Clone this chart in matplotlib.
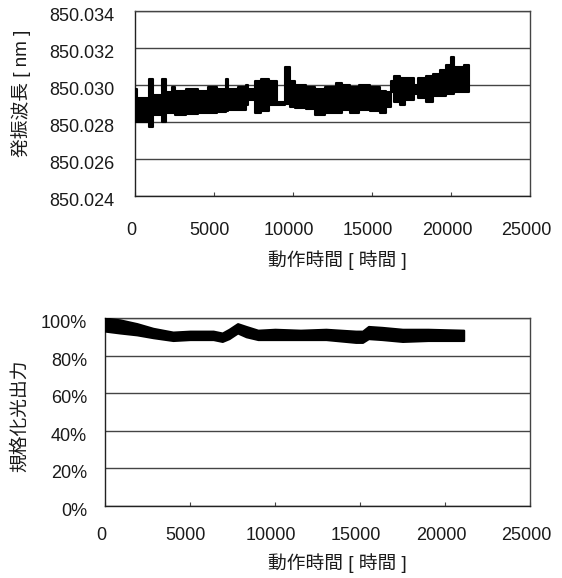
"""
Laser aging test: oscillation wavelength and normalized optical output
vs. operating time. Saves out.png
"""

import matplotlib
matplotlib.use("Agg")
import matplotlib.pyplot as plt
import matplotlib.transforms as mtransforms
from matplotlib.ticker import FuncFormatter

plt.rcParams["font.family"] = ["Liberation Sans", "Noto Sans CJK JP", "DejaVu Sans"]

TEXT_COLOR = "#1a1a1a"
LINE_COLOR = "#444444"

# ── Wavelength band: block start times (h), upper / lower edge (nm) ──────────
wl_start = [0, 130, 900, 1150, 1700, 1970, 2350, 2540, 3200, 4000, 4600, 5200,
            5750, 5900, 6500, 7000, 7170, 7600, 7950, 8060, 8500, 9000, 9500,
            9830, 10150, 10800, 11400, 12000, 12700, 13100, 13600, 14200,
            14900, 15500, 15900, 16200, 16400, 16800, 17100, 17650, 17900,
            18400, 18850, 19300, 19670, 20000, 20180, 20800]
wl_hi = [850.0298, 850.0293, 850.0303, 850.02945, 850.0303, 850.0296, 850.0299,
         850.0297, 850.0298, 850.0297, 850.0299, 850.0298, 850.0303, 850.0298,
         850.0299, 850.0300, 850.0298, 850.0302, 850.0303, 850.0303, 850.0302,
         850.0291, 850.0310, 850.0302, 850.0300, 850.0299, 850.0298, 850.0299,
         850.0301, 850.0300, 850.0299, 850.0300, 850.0299, 850.0297, 850.0296,
         850.0302, 850.0305, 850.0304, 850.0304, 850.0300, 850.0304, 850.0305,
         850.0306, 850.0308, 850.0311, 850.0315, 850.0310, 850.0311]
wl_lo = [850.0280, 850.0280, 850.02775, 850.02838, 850.0280, 850.0285,
         850.0285, 850.0284, 850.02845, 850.0285, 850.0285, 850.02855,
         850.0286, 850.02865, 850.02865, 850.0289, 850.0292, 850.0285,
         850.0293, 850.0286, 850.0289, 850.0289, 850.0290, 850.0288,
         850.02875, 850.0287, 850.0284, 850.0285, 850.0285, 850.02865,
         850.0285, 850.02865, 850.0286, 850.0285, 850.0288, 850.0296,
         850.0291, 850.0289, 850.0292, 850.0295, 850.0293, 850.0291,
         850.0294, 850.0294, 850.0295, 850.0295, 850.0296, 850.0296]
WL_END = 21130

# ── Normalized optical output band (%) ───────────────────────────────────────
po_time = [0, 880, 1880, 2830, 4000, 5000, 6370, 6900, 7300, 7800, 8300, 9000,
           10000, 11500, 13000, 14750, 15150, 15500, 16300, 17500, 19000, 21100]
po_hi = [100, 99, 97, 94.5, 92.5, 93, 93, 92, 94, 97, 95.5, 93.5,
         94, 93.5, 94, 93, 93, 95.5, 95, 94, 94, 93.5]
po_lo = [93, 92, 91, 89.5, 88, 88.5, 88.5, 87.5, 89, 92, 90, 88.5,
         88.5, 88.5, 88.5, 87, 87, 89, 88.5, 87.5, 88, 88]

x_ticks = [0, 5000, 10000, 15000, 20000, 25000]
wl_ticks = [850.024, 850.026, 850.028, 850.030, 850.032, 850.034]
po_ticks = [0, 20, 40, 60, 80, 100]

X_LABEL = "動作時間 [ 時間 ]"
WL_LABEL = "発振波長 [ nm ]"
PO_LABEL = "規格化光出力"


def style_axes(ax, fig, xpad, ypad):
    ax.set_xlim(0, 25000)
    ax.set_xticks(x_ticks)
    ax.grid(True, axis="y", color=LINE_COLOR, linewidth=1.0)
    ax.set_axisbelow(True)
    for sp in ax.spines.values():
        sp.set_color(LINE_COLOR)
        sp.set_linewidth(1.0)
    ax.spines["left"].set_color("#222222")
    ax.spines["bottom"].set_color("#222222")
    ax.tick_params(axis="x", direction="in", length=3, width=0.8,
                   color=LINE_COLOR, labelsize=13, labelcolor=TEXT_COLOR, pad=xpad)
    ax.tick_params(axis="y", length=0, labelsize=13, labelcolor=TEXT_COLOR, pad=ypad)
    # tick labels in the original sit a little left / low of their ticks
    dx = mtransforms.ScaledTranslation(-0.04, 0, fig.dpi_scale_trans)
    for lab in ax.get_xticklabels():
        lab.set_transform(lab.get_transform() + dx)
    dy = mtransforms.ScaledTranslation(0, -0.035, fig.dpi_scale_trans)
    for lab in ax.get_yticklabels():
        lab.set_transform(lab.get_transform() + dy)


def main():
    fig = plt.figure(figsize=(5.62, 5.78), dpi=100)
    ax_wl = fig.add_axes([0.2402, 0.6609, 0.7028, 0.3200])
    ax_po = fig.add_axes([0.1868, 0.1246, 0.7562, 0.3253])

    # wavelength: blocky band, each block holds until the next start time
    t = wl_start + [WL_END]
    ax_wl.fill_between(t, wl_lo + [wl_lo[-1]], wl_hi + [wl_hi[-1]], step="post",
                       color="black", linewidth=1.5, edgecolor="black", zorder=3)
    ax_wl.set_ylim(850.024, 850.034)
    ax_wl.set_yticks(wl_ticks)
    ax_wl.yaxis.set_major_formatter(FuncFormatter(lambda v, p: f"{v:.3f}"))
    style_axes(ax_wl, fig, xpad=19, ypad=15)
    ax_wl.set_xlabel(X_LABEL, fontsize=13.5, color=TEXT_COLOR, va="center")
    ax_wl.xaxis.set_label_coords(0.513, -0.346)
    ax_wl.set_ylabel(WL_LABEL, fontsize=13.5, color=TEXT_COLOR, va="center")
    ax_wl.yaxis.set_label_coords(-0.289, 0.557)

    # optical output
    ax_po.fill_between(po_time, po_lo, po_hi, color="black", linewidth=1.5,
                       edgecolor="black", zorder=3)
    ax_po.set_ylim(0, 100)
    ax_po.set_yticks(po_ticks)
    ax_po.yaxis.set_major_formatter(FuncFormatter(lambda v, p: f"{v:.0f}%"))
    style_axes(ax_po, fig, xpad=15, ypad=13)
    ax_po.set_xlabel(X_LABEL, fontsize=13.5, color=TEXT_COLOR, va="center")
    ax_po.xaxis.set_label_coords(0.547, -0.303)
    ax_po.set_ylabel(PO_LABEL, fontsize=13.5, color=TEXT_COLOR, va="center")
    ax_po.yaxis.set_label_coords(-0.2, 0.479)

    fig.savefig("out.png", dpi=100)


if __name__ == "__main__":
    main()
